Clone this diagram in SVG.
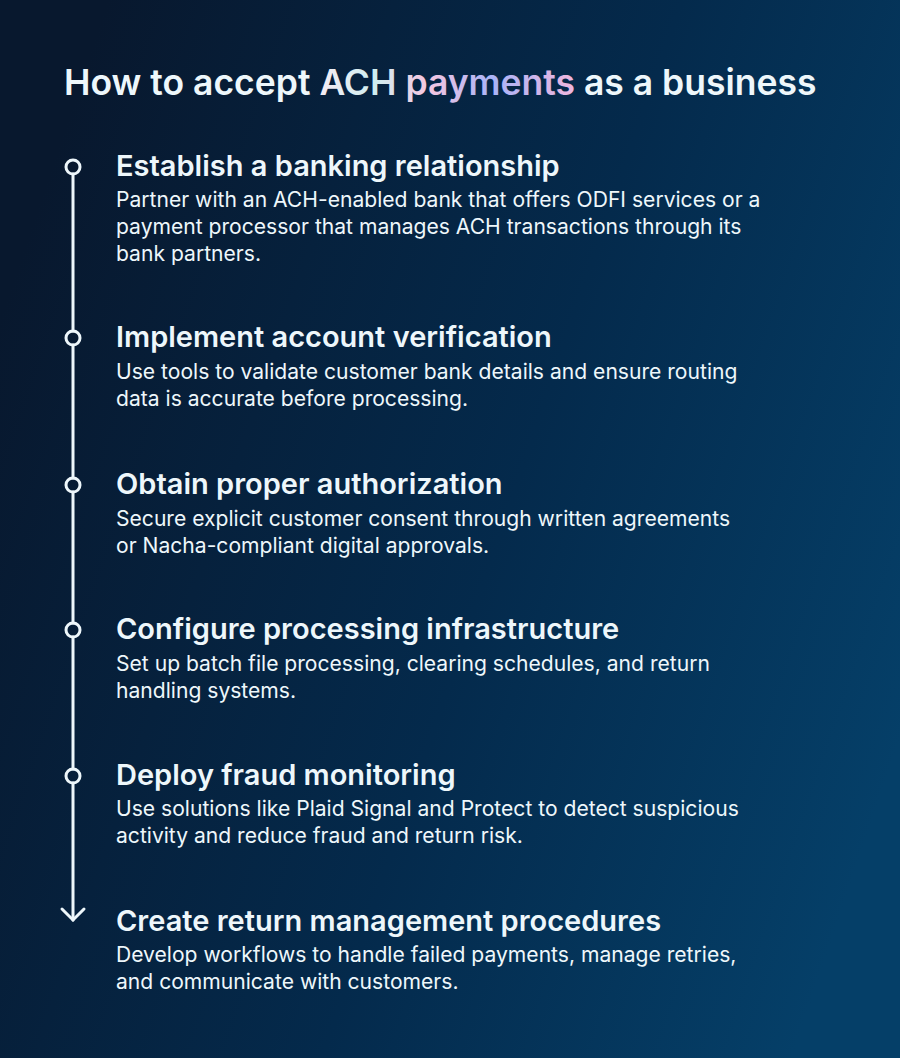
<svg xmlns="http://www.w3.org/2000/svg" width="900" height="1058" viewBox="0 0 900 1058">
<defs>
<linearGradient id="bg" x1="0" y1="0.3" x2="1" y2="0.7"><stop offset="0" stop-color="#08182e"/><stop offset="0.55" stop-color="#042a4c"/><stop offset="1" stop-color="#053f68"/></linearGradient>
<linearGradient id="tg" gradientUnits="userSpaceOnUse" x1="322" y1="0" x2="585" y2="0"><stop offset="0" stop-color="#f3ecf3"/><stop offset="0.2" stop-color="#cfeef0"/><stop offset="0.4" stop-color="#f5c6e0"/><stop offset="0.65" stop-color="#a9b4f8"/><stop offset="1" stop-color="#f7b6da"/></linearGradient>
<style>
text{font-family:Inter,"Noto Sans",sans-serif;fill:#eef7fb}
.t{font-size:35.5px;font-weight:600}
.h{font-size:29px;font-weight:600}
.b{font-size:21.1px;font-weight:400}
.dot{fill:none;stroke:#eef7fb;stroke-width:3}
</style>
</defs>
<rect width="900" height="1058" fill="url(#bg)"/>
<text class="t" x="64" y="95">How to accept <tspan fill="url(#tg)">ACH payments</tspan> as a business</text>
<g id="connectors" stroke="#eef7fb" stroke-width="3" fill="none" stroke-linecap="round">
<line x1="73" y1="174" x2="73" y2="331"/>
<line x1="73" y1="345" x2="73" y2="478"/>
<line x1="73" y1="492" x2="73" y2="623"/>
<line x1="73" y1="637" x2="73" y2="769"/>
<line x1="73" y1="783" x2="73" y2="920"/>
<polyline points="62,909 73,920 84,909"/>
</g>
<g id="step1"><circle class="dot" cx="73" cy="167" r="7"/><text class="h" x="116" y="176">Establish a banking relationship</text><text class="b" x="116" y="207">Partner with an ACH-enabled bank that offers ODFI services or a</text><text class="b" x="116" y="234">payment processor that manages ACH transactions through its</text><text class="b" x="116" y="261">bank partners.</text></g>
<g id="step2"><circle class="dot" cx="73" cy="338" r="7"/><text class="h" x="116" y="347">Implement account verification</text><text class="b" x="116" y="379">Use tools to validate customer bank details and ensure routing</text><text class="b" x="116" y="406">data is accurate before processing.</text></g>
<g id="step3"><circle class="dot" cx="73" cy="485" r="7"/><text class="h" x="116" y="494">Obtain proper authorization</text><text class="b" x="116" y="526">Secure explicit customer consent through written agreements</text><text class="b" x="116" y="553">or Nacha-compliant digital approvals.</text></g>
<g id="step4"><circle class="dot" cx="73" cy="630" r="7"/><text class="h" x="116" y="639">Configure processing infrastructure</text><text class="b" x="116" y="671">Set up batch file processing, clearing schedules, and return</text><text class="b" x="116" y="698">handling systems.</text></g>
<g id="step5"><circle class="dot" cx="73" cy="776" r="7"/><text class="h" x="116" y="785">Deploy fraud monitoring</text><text class="b" x="116" y="816">Use solutions like Plaid Signal and Protect to detect suspicious</text><text class="b" x="116" y="843">activity and reduce fraud and return risk.</text></g>
<g id="step6"><text class="h" x="116" y="931">Create return management procedures</text><text class="b" x="116" y="962">Develop workflows to handle failed payments, manage retries,</text><text class="b" x="116" y="989">and communicate with customers.</text></g>
</svg>
